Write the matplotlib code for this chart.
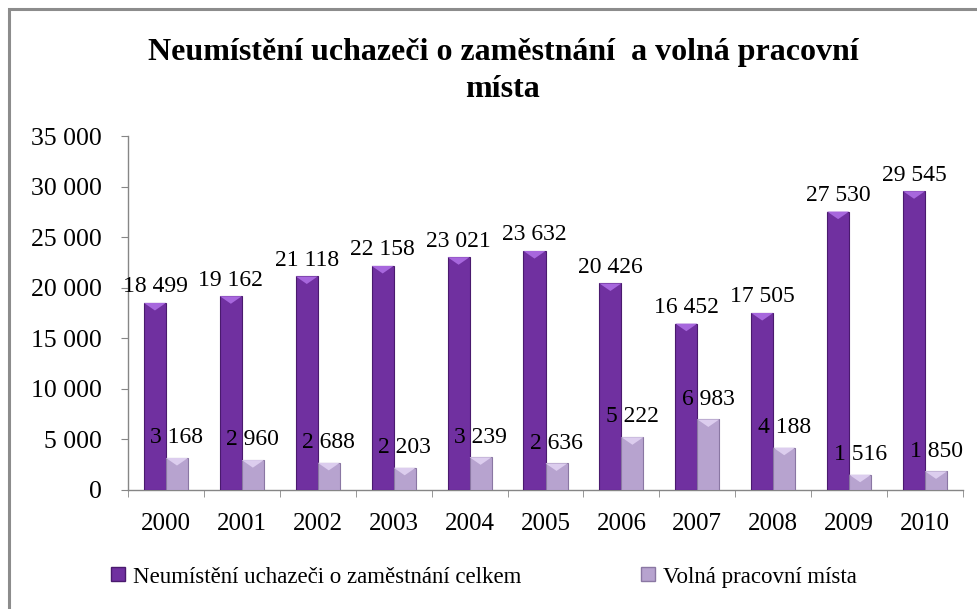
import matplotlib
matplotlib.use("Agg")
import matplotlib.pyplot as plt
import numpy as np
from matplotlib.patches import Rectangle, Polygon
from matplotlib.lines import Line2D

years = ["2000", "2001", "2002", "2003", "2004", "2005", "2006", "2007", "2008", "2009", "2010"]
unemployed = [18499, 19162, 21118, 22158, 23021, 23632, 20426, 16452, 17505, 27530, 29545]
vacancies = [3168, 2960, 2688, 2203, 3239, 2636, 5222, 6983, 4188, 1516, 1850]
series_names = ["Neumístění uchazeči o zaměstnání celkem", "Volná pracovní místa"]
title = "Neumístění uchazeči o zaměstnání  a volná pracovní\nmísta"
yticks = [0, 5000, 10000, 15000, 20000, 25000, 30000, 35000]

plt.rcParams['font.family'] = ['Liberation Serif', 'DejaVu Serif']

def fmt(v):
    return f"{v:,}".replace(",", " ")

W, H = 977, 609
fig = plt.figure(figsize=(W / 100, H / 100), dpi=100)
ax = fig.add_axes([128 / W, 1 - 490 / H, (963 - 128) / W, (490 - 136) / H])

x = np.arange(len(years))
bw = 0.29
off = 0.145
c1, e1, h1 = "#7030A0", "#4A1A6E", "#A767DD"
c2, e2, h2 = "#B7A3CF", "#8A77A3", "#DCCDEE"

b1 = ax.bar(x - off, unemployed, bw, color=c1, edgecolor=e1, linewidth=0.8, zorder=3)
b2 = ax.bar(x + off, vacancies, bw, color=c2, edgecolor=e2, linewidth=0.8, zorder=3)

# bevel highlight on top of bars
bev = 750
for bars, hc in ((b1, h1), (b2, h2)):
    for r in bars:
        x0, w, top = r.get_x(), r.get_width(), r.get_height()
        ax.add_patch(Polygon([(x0, top), (x0 + w, top), (x0 + w / 2, top - bev)],
                             closed=True, facecolor=hc, edgecolor='none', zorder=4))

for i, v in enumerate(unemployed):
    ax.annotate(fmt(v), (x[i] - off, v), xytext=(0, 4), textcoords='offset points',
                ha='center', va='bottom', fontsize=17, zorder=5)
for i, v in enumerate(vacancies):
    ax.annotate(fmt(v), (x[i] + off, v), xytext=(0, 7), textcoords='offset points',
                ha='center', va='bottom', fontsize=17, zorder=5)

ax.set_xlim(-0.5, len(years) - 0.5)
ax.set_ylim(0, 35000)
ax.set_yticks(yticks)
ax.set_yticklabels([fmt(t) for t in yticks], fontsize=18.5)
ax.set_xticks(x)
ax.set_xticklabels(years, fontsize=18)
ax.set_xticks(np.arange(-0.5, len(years), 1), minor=True)
ax.tick_params(axis='x', which='major', length=0, pad=16.5)
ax.tick_params(axis='x', which='minor', length=5, color='#868686', direction='out')
ax.tick_params(axis='y', length=5, color='#868686', direction='out', pad=14)
for s in ('top', 'right'):
    ax.spines[s].set_visible(False)
for s in ('left', 'bottom'):
    ax.spines[s].set_color('#868686')
    ax.spines[s].set_linewidth(1.0)

fig.text(503 / W, 1 - 71 / H, title, ha='center', va='center', fontsize=23,
         fontweight='bold', linespacing=1.32)

h_a = Line2D([], [], marker='s', linestyle='none', markersize=10, markerfacecolor=c1, markeredgecolor=e1)
h_b = Line2D([], [], marker='s', linestyle='none', markersize=10, markerfacecolor=c2, markeredgecolor=e2)
leg1 = fig.legend([h_a], [series_names[0]], loc='center left', bbox_to_anchor=(110 / W, 1 - 577 / H),
                  frameon=False, fontsize=16.5, handlelength=0.7, handletextpad=0.3,
                  borderaxespad=0, borderpad=0)
leg2 = fig.legend([h_b], [series_names[1]], loc='center left', bbox_to_anchor=(640 / W, 1 - 577 / H),
                  frameon=False, fontsize=16.5, handlelength=0.7, handletextpad=0.3,
                  borderaxespad=0, borderpad=0)

fig.patches.append(Rectangle((9 / W, -0.1), 1.2, 1 - 9 / H + 0.1, transform=fig.transFigure,
                             fill=False, edgecolor='#8C8C8C', linewidth=2.2, zorder=10))

fig.savefig("out.png", dpi=100)
